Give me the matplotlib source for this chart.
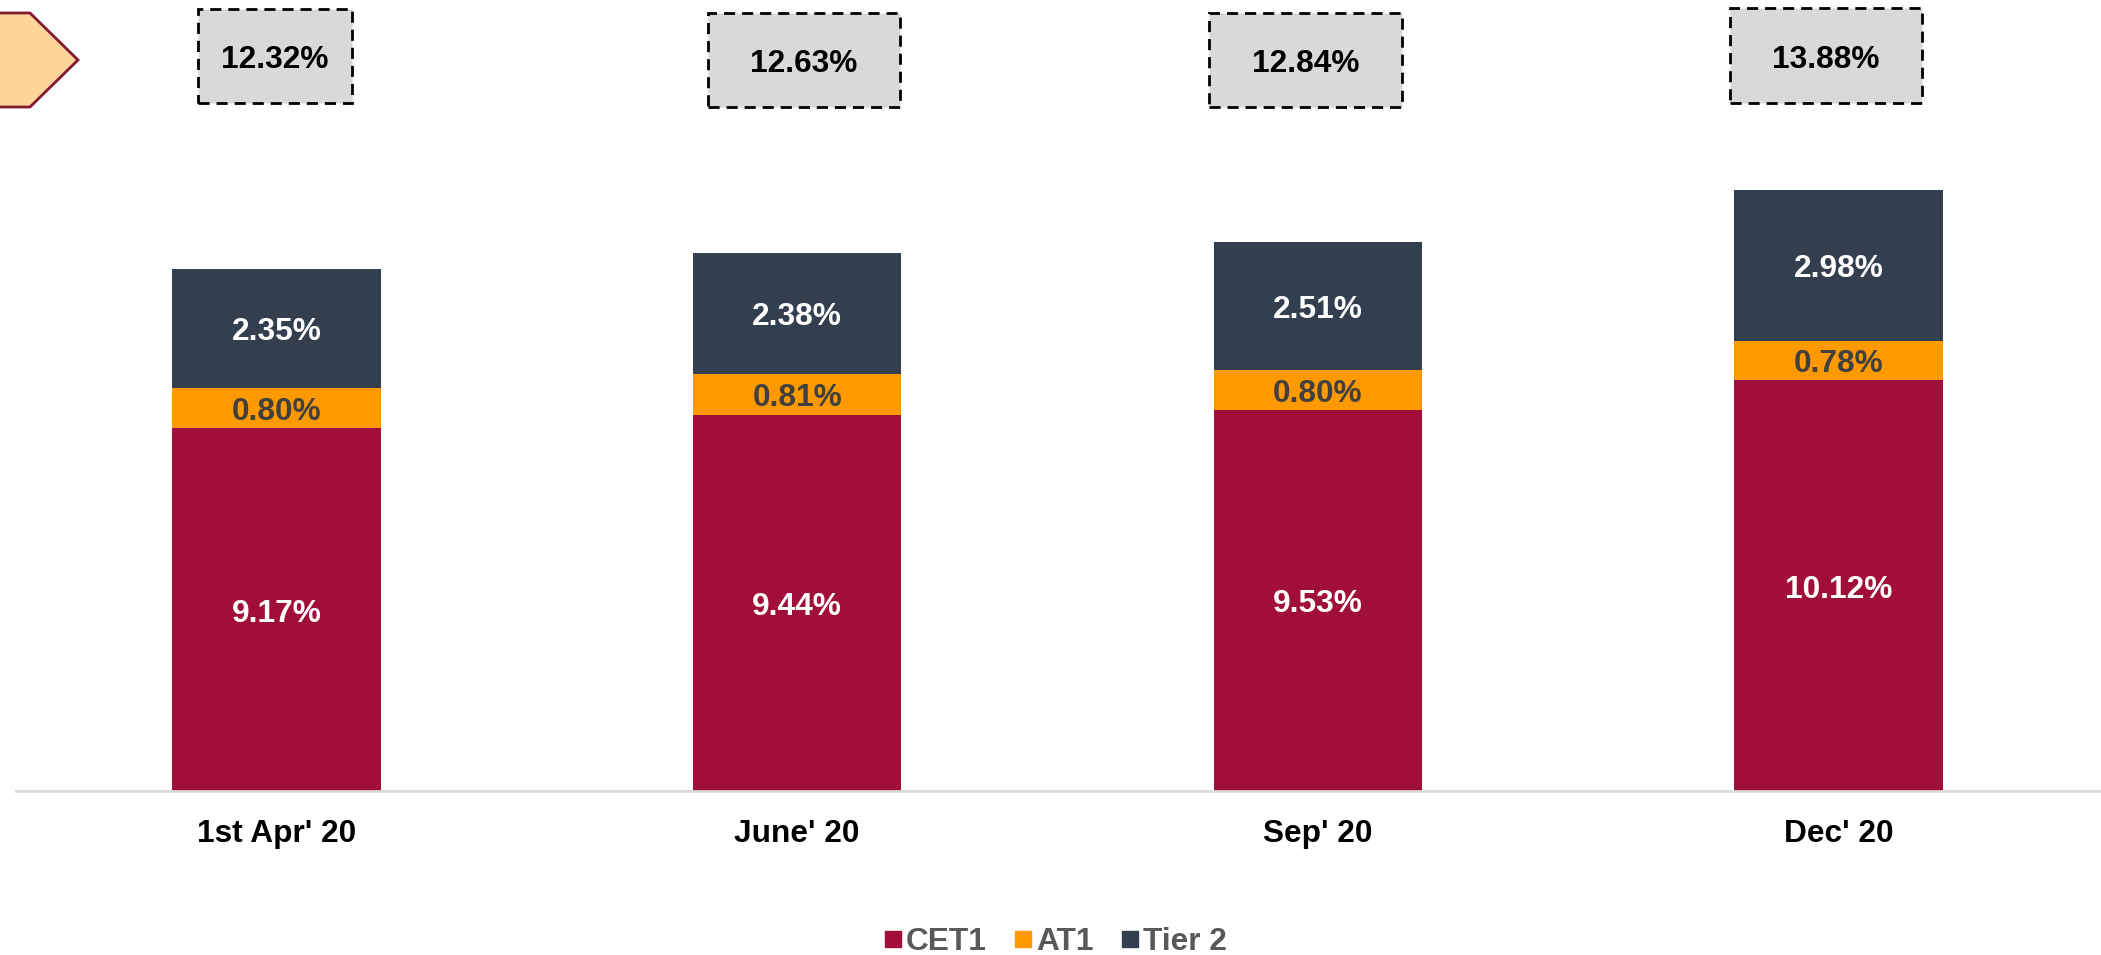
import matplotlib
matplotlib.use("Agg")
import matplotlib.pyplot as plt
from matplotlib.patches import Rectangle, Polygon
from matplotlib.lines import Line2D
import numpy as np

plt.rcParams['font.family'] = ['Liberation Sans', 'DejaVu Sans']
plt.rcParams['font.weight'] = 'bold'

# data
periods = ["1st Apr' 20", "June' 20", "Sep' 20", "Dec' 20"]
cet1 = [9.17, 9.44, 9.53, 10.12]
at1 = [0.80, 0.81, 0.80, 0.78]
tier2 = [2.35, 2.38, 2.51, 2.98]
totals = [12.32, 12.63, 12.84, 13.88]

c_cet1 = '#A10E3A'
c_at1 = '#FF9900'
c_tier2 = '#333F4F'

W, H = 2101, 955
fig = plt.figure(figsize=(W/100, H/100), dpi=100)

# axes placed so baseline sits at y=791 px
base_px = 791
ax = fig.add_axes([16/W, (H-base_px)/H, 2083/W, base_px/H])
ymin = 2.0
ax.set_ylim(ymin, ymin + base_px/50.6)
ax.set_xlim(-0.5, 3.5)

x = np.arange(len(periods))
bw = 0.40
cet1 = np.array(cet1); at1 = np.array(at1); tier2 = np.array(tier2)
ax.bar(x, cet1 - ymin, bw, bottom=ymin, color=c_cet1, label='CET1')
ax.bar(x, at1, bw, bottom=cet1, color=c_at1, label='AT1')
ax.bar(x, tier2, bw, bottom=cet1 + at1, color=c_tier2, label='Tier 2')

fs = 22.8

def seg_label(xv, yv, txt, col):
    ax.annotate(txt, (xv, yv), xytext=(0, -4), textcoords='offset pixels',
                ha='center', va='center', color=col, fontsize=fs, fontweight='bold')

for i in range(len(x)):
    seg_label(x[i], (ymin + cet1[i]) / 2, '%.2f%%' % cet1[i], 'white')
    seg_label(x[i], cet1[i] + at1[i] / 2, '%.2f%%' % at1[i], '#404040')
    seg_label(x[i], cet1[i] + at1[i] + tier2[i] / 2, '%.2f%%' % tier2[i], 'white')

for s in ['top', 'right', 'left']:
    ax.spines[s].set_visible(False)
ax.spines['bottom'].set_color('#D9D9D9')
ax.spines['bottom'].set_linewidth(2)
ax.set_yticks([])
ax.set_xticks(x)
ax.set_xticklabels(periods, fontsize=fs, fontweight='bold')
ax.tick_params(axis='x', length=0, pad=20)

# dashed total boxes at the top (pixel layout)
box_l = [198, 708, 1209, 1730]
box_r = [352, 900, 1402, 1922]
box_t = [9, 13, 13, 8]
box_b = [103, 107, 107, 103]
for i in range(len(totals)):
    l, r, t, b = box_l[i], box_r[i], box_t[i], box_b[i]
    rect = Rectangle((l/W, 1 - b/H), (r-l)/W, (b-t)/H, transform=fig.transFigure,
                     facecolor='#D9D9D9', edgecolor='black', linestyle=(0, (4, 2.5)), linewidth=2)
    fig.add_artist(rect)
    fig.text((l+r)/2/W, 1 - ((t+b)/2 + 4)/H, '%.2f%%' % totals[i], ha='center', va='center',
             fontsize=fs, fontweight='bold', color='black')

# arrow shape top-left
pts = np.array([(-5, 13), (30, 13), (78, 60), (30, 107), (-5, 107)], dtype=float)
pts[:, 0] /= W
pts[:, 1] = 1 - pts[:, 1] / H
fig.add_artist(Polygon(pts, closed=True, transform=fig.transFigure,
                       facecolor='#FDD59A', edgecolor='#7F1B2D', linewidth=2))

handles = [Line2D([], [], marker='s', linestyle='none', markersize=12, color=c)
           for c in [c_cet1, c_at1, c_tier2]]
leg = fig.legend(handles, ['CET1', 'AT1', 'Tier 2'], loc='center', ncol=3,
                 bbox_to_anchor=(1056/W, 1 - 942/H), frameon=False,
                 prop={'size': fs, 'weight': 'bold'}, handlelength=0.5,
                 handletextpad=0.18, columnspacing=0.88, borderpad=0)
for t in leg.get_texts():
    t.set_color('#595959')

fig.savefig('out.png', dpi=100)
